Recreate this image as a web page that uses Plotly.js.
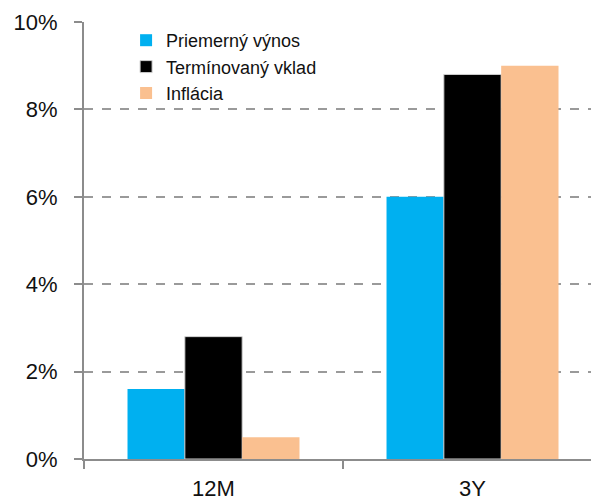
<!DOCTYPE html>
<html>
<head>
<meta charset="utf-8">
<script src="https://cdn.plot.ly/plotly-3.0.1.min.js"></script>
<style>html,body{margin:0;padding:0;background:#fff;}#chart{width:591px;height:500px;}</style>
</head>
<body>
<div id="chart"></div>
<script>
const categories = ['12M', '3Y'];
const seriesNames = ['Priemerný výnos', 'Termínovaný vklad', 'Inflácia'];
const priemernyVynos = [1.6, 6.0];
const terminovanyVklad = [2.8, 8.8];
const inflacia = [0.5, 9.0];
const yTickVals = [0, 2, 4, 6, 8, 10];
const yTickText = ['0%', '2%', '4%', '6%', '8%', '10%'];

const colors = ['#00b0f0', '#000000', '#fac090'];
const values = [priemernyVynos, terminovanyVklad, inflacia];
const font = 'Liberation Sans, Arial, sans-serif';

const traces = values.map((v, i) => ({
  type: 'bar',
  x: categories,
  y: v,
  name: seriesNames[i],
  legendgroup: 'g' + i,
  marker: {color: colors[i], line: {width: i === 1 ? 1 : 0, color: '#d0d0d0'}},
  hoverinfo: 'skip'
}));

const layout = {
  width: 591, height: 500,
  margin: {l: 84, r: 0, t: 22, b: 41, pad: 0},
  paper_bgcolor: '#ffffff', plot_bgcolor: '#ffffff',
  barmode: 'group',
  bargap: 0.336, bargroupgap: 0,
  font: {family: font, size: 22, color: '#111111'},
  showlegend: true,
  legend: {
    x: 0.083, y: 1.0, xanchor: 'left', yanchor: 'top',
    bgcolor: 'rgba(255,255,255,0)', borderwidth: 0,
    font: {family: font, size: 18, color: '#111111'},
    tracegroupgap: 11, itemwidth: 30, traceorder: 'normal'
  },
  xaxis: {
    type: 'category',
    range: [-0.5, 1.4575],
    showline: true, linecolor: '#8c8c8c', linewidth: 2,
    ticks: 'outside', tickson: 'boundaries', ticklen: 8, tickwidth: 2, tickcolor: '#8c8c8c',
    showgrid: false, zeroline: false,
    ticklabelstandoff: 9,
    tickfont: {family: font, size: 22, color: '#111111'}
  },
  yaxis: {
    range: [0, 10],
    tickvals: yTickVals, ticktext: yTickText,
    showline: true, linecolor: '#8c8c8c', linewidth: 2,
    ticks: 'outside', ticklen: 8, tickwidth: 2, tickcolor: '#8c8c8c',
    showgrid: true, gridcolor: '#9a9a9a', griddash: 'dash', gridwidth: 2,
    zeroline: false,
    ticklabelstandoff: 12,
    tickfont: {family: font, size: 22, color: '#111111'}
  }
};

Plotly.newPlot('chart', traces, layout, {displayModeBar: false, staticPlot: true});
</script>
</body>
</html>
